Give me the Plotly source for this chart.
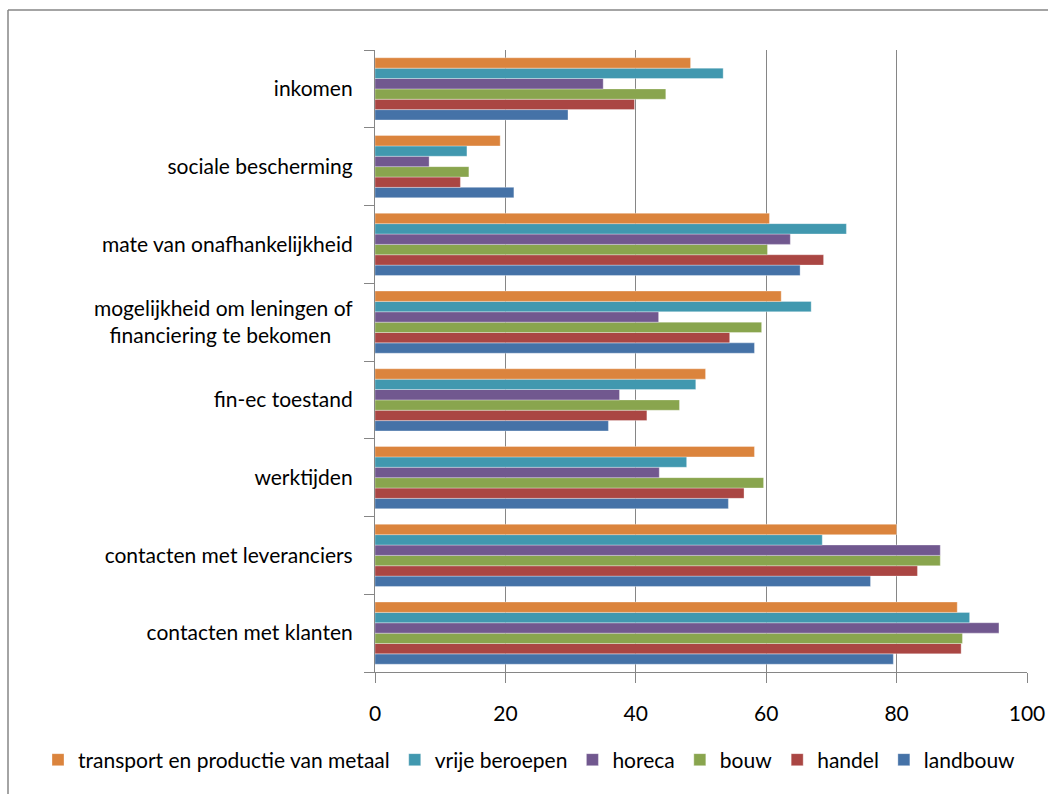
import plotly.graph_objects as go

categories = [
    "contacten met klanten",
    "contacten met leveranciers",
    "werktijden",
    "fin-ec toestand",
    "mogelijkheid om leningen of<br>financiering te bekomen\u00a0\u00a0\u00a0\u00a0",
    "mate van onafhankelijkheid",
    "sociale bescherming",
    "inkomen",
]

series_names = ["landbouw", "handel", "bouw", "horeca", "vrije beroepen",
                "transport en productie van metaal"]

landbouw = [79.5, 76.0, 54.2, 35.8, 58.2, 65.2, 21.3, 29.6]
handel = [89.9, 83.2, 56.6, 41.7, 54.4, 68.8, 13.1, 39.8]
bouw = [90.1, 86.7, 59.6, 46.7, 59.3, 60.2, 14.4, 44.6]
horeca = [95.7, 86.7, 43.6, 37.5, 43.5, 63.7, 8.3, 35.0]
vrije_beroepen = [91.2, 68.6, 47.8, 49.2, 66.9, 72.3, 14.1, 53.4]
transport = [89.3, 80.0, 58.2, 50.7, 62.3, 60.5, 19.2, 48.4]

series_values = [landbouw, handel, bouw, horeca, vrije_beroepen, transport]
colors = ["#4572A7", "#AA4643", "#89A54E", "#71588F", "#4198AF", "#DB843D"]

x_ticks = [0, 20, 40, 60, 80, 100]

FONT = "Lato"
FS = 21
GRAY = "#868686"

fig = go.Figure()
for name, vals, col in zip(series_names, series_values, colors):
    fig.add_trace(go.Bar(
        y=categories, x=vals, name=name, orientation="h",
        marker=dict(color=col, line=dict(color="rgba(255,255,255,0.55)", width=0.6)),
    ))

W, H = 1048, 794
L, R, T, B = 375, 21, 50, 122
pw, ph = W - L - R, H - T - B

def px_x(px):
    return (px - L) / pw

def px_y(py):
    return (H - B - py) / ph

fig.update_layout(
    width=W, height=H,
    margin=dict(l=L, r=R, t=T, b=B, pad=0, autoexpand=False),
    paper_bgcolor="white", plot_bgcolor="white",
    barmode="group", bargap=0.2, bargroupgap=0,
    font=dict(family=FONT, size=FS, color="black"),
    legend=dict(
        orientation="h", traceorder="reversed",
        x=px_x(38), xanchor="left",
        y=px_y(760), yanchor="middle",
        font=dict(family=FONT, size=FS), itemwidth=30,
        bgcolor="rgba(0,0,0,0)",
    ),
    xaxis=dict(
        range=[0, 100], tickvals=x_ticks, ticktext=[str(t) for t in x_ticks],
        showgrid=True, gridcolor=GRAY, gridwidth=1.2,
        showline=True, linecolor=GRAY, linewidth=1.2,
        ticks="outside", ticklen=10, tickcolor=GRAY,
        ticklabelstandoff=13, zeroline=False, automargin=False,
    ),
    yaxis=dict(
        categoryorder="array", categoryarray=categories,
        showline=True, linecolor=GRAY, linewidth=1.2,
        ticks="outside", ticklen=10, tickcolor=GRAY,
        tickson="boundaries", ticklabelstandoff=17,
        showgrid=False, zeroline=False, automargin=False,
    ),
    shapes=[
        dict(type="line", xref="paper", yref="paper",
             x0=px_x(8), x1=px_x(8), y0=px_y(10), y1=px_y(900),
             line=dict(color=GRAY, width=1.5)),
        dict(type="line", xref="paper", yref="paper",
             x0=px_x(8), x1=px_x(1100), y0=px_y(10), y1=px_y(10),
             line=dict(color=GRAY, width=1.5)),
    ],
)

fig.write_html("out.html", config={"displayModeBar": False},
               post_script="document.body.style.margin='0';document.body.style.overflow='hidden';")
